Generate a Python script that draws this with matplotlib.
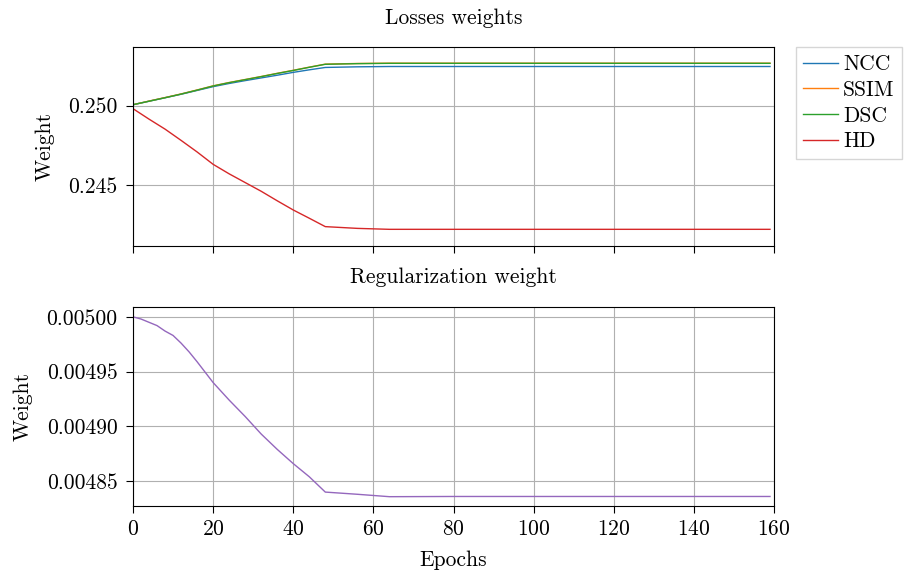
import matplotlib
matplotlib.use('Agg')
import matplotlib.pyplot as plt
from matplotlib.ticker import FormatStrFormatter, MultipleLocator

plt.rcParams['font.family'] = 'cmr10'
plt.rcParams['axes.formatter.use_mathtext'] = True
plt.rcParams['font.size'] = 15.5
plt.rcParams['axes.titlesize'] = 15.5
plt.rcParams['axes.labelsize'] = 15.5
plt.rcParams['xtick.major.size'] = 5
plt.rcParams['ytick.major.size'] = 5
plt.rcParams['xtick.major.pad'] = 5
plt.rcParams['ytick.major.pad'] = 6

# Losses weights
epochs = [0, 4, 8, 12, 16, 20, 24, 28, 32, 36, 40, 44, 48, 56, 64, 80, 100, 120, 140, 159]
ncc = [0.25006, 0.25028, 0.25050, 0.25072, 0.25096, 0.25120, 0.25140, 0.25158, 0.25175, 0.25192,
       0.25210, 0.25226, 0.25241, 0.25245, 0.25247, 0.25247, 0.25247, 0.25247, 0.25247, 0.25247]
ssim = [0.25006, 0.25029, 0.25051, 0.25074, 0.25099, 0.25125, 0.25146, 0.25165, 0.25184, 0.25204,
        0.25223, 0.25243, 0.25262, 0.25266, 0.25268, 0.25268, 0.25268, 0.25268, 0.25268, 0.25268]
dsc = [0.25006, 0.25028, 0.25050, 0.25073, 0.25098, 0.25124, 0.25145, 0.25164, 0.25183, 0.25203,
       0.25222, 0.25242, 0.25261, 0.25265, 0.25267, 0.25267, 0.25267, 0.25267, 0.25267, 0.25267]
hd = [0.24981, 0.24915, 0.24852, 0.24781, 0.24708, 0.24630, 0.24570, 0.24515, 0.24460, 0.24400,
      0.24342, 0.24290, 0.24237, 0.24226, 0.24220, 0.24220, 0.24220, 0.24220, 0.24220, 0.24220]

# Regularization weight
reg_epochs = [0, 2, 4, 6, 8, 10, 12, 14, 16, 20, 24, 28, 32, 36, 40, 44, 48, 56, 64, 80, 100, 120, 140, 159]
reg = [0.005000, 0.004998, 0.004995, 0.004992, 0.004987, 0.004983, 0.004976, 0.004968, 0.004959,
       0.004940, 0.004924, 0.004909, 0.004893, 0.004879, 0.004866, 0.004854, 0.004840, 0.004838,
       0.0048358, 0.004836, 0.004836, 0.004836, 0.004836, 0.004836]

fig, (ax1, ax2) = plt.subplots(2, 1, figsize=(9.07, 5.77), dpi=100, sharex=True)
fig.subplots_adjust(left=133 / 907, right=774 / 907, top=1 - 47 / 577, bottom=1 - 506 / 577, hspace=0.305)

ax1.plot(epochs, ncc, color='tab:blue', lw=1, label='NCC')
ax1.plot(epochs, ssim, color='tab:orange', lw=1, label='SSIM')
ax1.plot(epochs, dsc, color='tab:green', lw=1, label='DSC')
ax1.plot(epochs, hd, color='tab:red', lw=1, label='HD')
ax1.set_title('Losses weights', pad=16.5)
ax1.set_ylabel('Weight', labelpad=10)
ax1.set_ylim(0.24114, 0.25370)
ax1.yaxis.set_major_locator(MultipleLocator(0.005))
ax1.yaxis.set_major_formatter(FormatStrFormatter('%.3f'))
ax1.grid(True, color='#b0b0b0', lw=0.8)
ax1.set_axisbelow(True)
leg = ax1.legend(loc='upper left', bbox_to_anchor=(1.034, 1.0), borderaxespad=0,
                 fancybox=False, edgecolor='#cccccc', handlelength=1.6,
                 handletextpad=0.25, labelspacing=0.29, borderpad=0.35)

ax2.plot(reg_epochs, reg, color='tab:purple', lw=1)
ax2.set_title('Regularization weight', pad=17.5)
ax2.set_ylabel('Weight', labelpad=10)
ax2.set_xlabel('Epochs', labelpad=8)
ax2.set_ylim(0.0048273, 0.0050091)
ax2.yaxis.set_major_locator(MultipleLocator(0.00005))
ax2.yaxis.set_major_formatter(FormatStrFormatter('%.5f'))
ax2.grid(True, color='#b0b0b0', lw=0.8)
ax2.set_axisbelow(True)
ax2.set_xlim(0, 160)
ax2.xaxis.set_major_locator(MultipleLocator(20))

fig.savefig('out.png', dpi=100)
